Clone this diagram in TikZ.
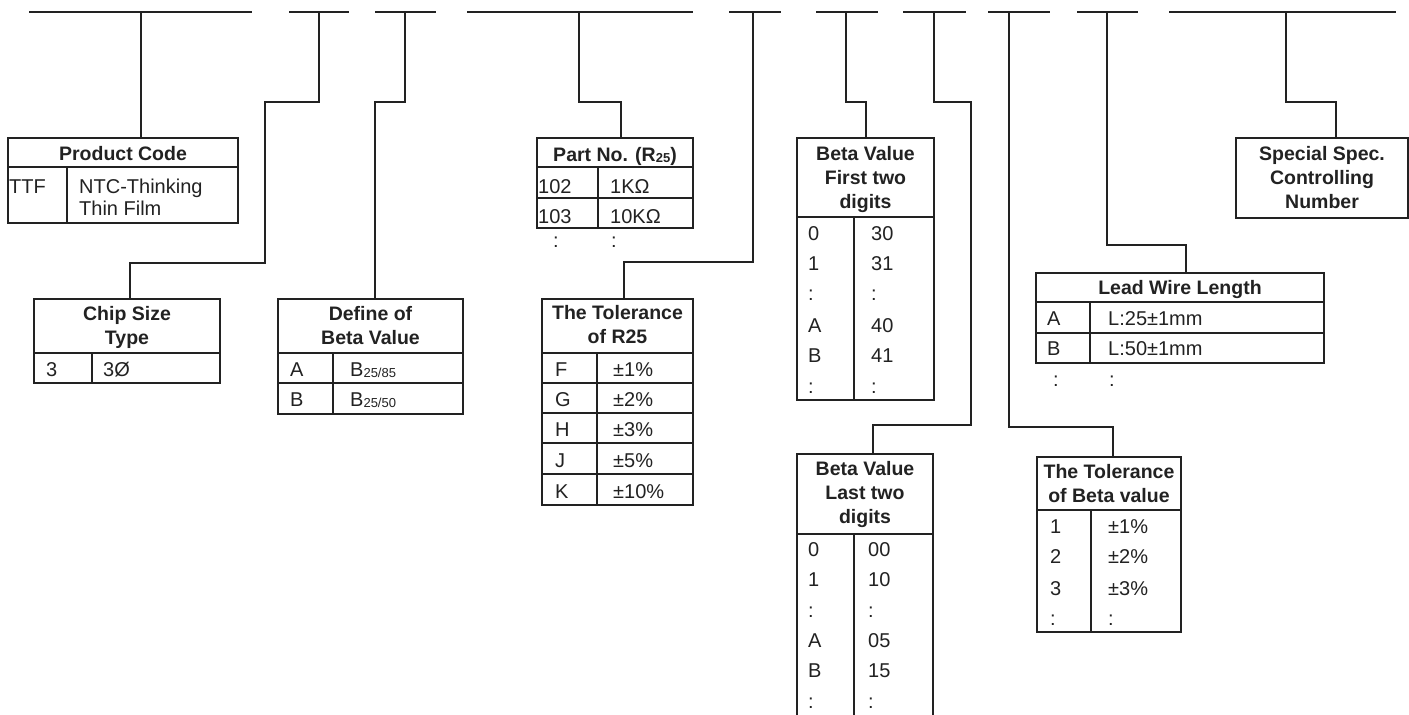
\documentclass[tikz,border=0pt]{standalone}
\usepackage{fontspec}
\setmainfont{Liberation Sans}
\definecolor{ink}{HTML}{222222}
\newcommand{\lowsub}[1]{\raisebox{-1.2pt}{\fontsize{13}{13}\selectfont #1}}

\begin{document}
\begin{tikzpicture}[
  x=1pt, y=-1pt,
  every node/.style={text=ink},
  box/.style={draw=ink, line width=1.1pt, inner sep=0pt, outer sep=0pt, anchor=north west},
  rule/.style={draw=ink, line width=1.1pt},
  link/.style={draw=ink, line width=1.1pt},
  head/.style={font=\bfseries\fontsize{19.5}{24.3}\selectfont, align=center, inner sep=0pt, anchor=north},
  cell/.style={font=\fontsize{20}{22}\selectfont, inner sep=0pt, anchor=base west}
]
\fill[white] (0,0) rectangle (1409,715);
\useasboundingbox (0,0) rectangle (1409,715);

\draw[rule] (29,12) -- (252,12);
\draw[rule] (289,12) -- (349,12);
\draw[rule] (375,12) -- (436,12);
\draw[rule] (467,12) -- (693,12);
\draw[rule] (729,12) -- (781,12);
\draw[rule] (816,12) -- (878,12);
\draw[rule] (903,12) -- (966,12);
\draw[rule] (988,12) -- (1050,12);
\draw[rule] (1077,12) -- (1138,12);
\draw[rule] (1169,12) -- (1396,12);

\coordinate (t1) at (141,12);
\coordinate (t2) at (319,12);
\coordinate (t3) at (405,12);
\coordinate (t4) at (579,12);
\coordinate (t5) at (753,12);
\coordinate (t6) at (846,12);
\coordinate (t7) at (934,12);
\coordinate (t8) at (1009,12);
\coordinate (t9) at (1107,12);
\coordinate (t10) at (1286,12);

\node[box, minimum width=230, minimum height=85] (pc) at (8,138) {};
\draw[rule] (8,167) -- (238,167);
\draw[rule] (67,167) -- (67,223);
\node[head] (pc-h) at (123,145.8) {Product Code};
\node[cell] (pc-k) at (9,193) {TTF};
\node[cell, anchor=north west, align=left] (pc-v) at (79,178.7) {NTC-Thinking\\Thin Film};

\node[box, minimum width=186, minimum height=84] (cs) at (34,299) {};
\draw[rule] (34,353) -- (220,353);
\draw[rule] (92,353) -- (92,383);
\node[head] (cs-h) at (127,306) {Chip Size\\Type};
\node[cell] (cs-k) at (46,376) {3};
\node[cell] (cs-v) at (103,376) {3Ø};

\node[box, minimum width=185, minimum height=115] (db) at (278,299) {};
\draw[rule] (278,353) -- (463,353);
\draw[rule] (278,383) -- (463,383);
\draw[rule] (333,353) -- (333,414);
\node[head] (db-h) at (370.5,306) {Define of\\Beta Value};
\node[cell] (db-k1) at (290,376) {A};
\node[cell] (db-v1) at (350,376) {B\lowsub{25/85}};
\node[cell] (db-k2) at (290,406) {B};
\node[cell] (db-v2) at (350,406) {B\lowsub{25/50}};

\node[box, minimum width=156, minimum height=90] (pn) at (537,138) {};
\draw[rule] (537,167) -- (693,167);
\draw[rule] (537,198) -- (693,198);
\draw[rule] (598,167) -- (598,228);
\node[head] (pn-h) at (615,146.8) {Part No. (R\lowsub{25})};
\node[cell] (pn-k1) at (538,193) {102};
\node[cell] (pn-v1) at (610,193) {1KΩ};
\node[cell] (pn-k2) at (538,223) {103};
\node[cell] (pn-v2) at (610,223) {10KΩ};
\node[cell] (pn-k3) at (553,247) {:};
\node[cell] (pn-v3) at (611,247) {:};

\node[box, minimum width=151, minimum height=206] (tr) at (542,299) {};
\draw[rule] (542,353) -- (693,353);
\draw[rule] (542,383) -- (693,383);
\draw[rule] (542,413) -- (693,413);
\draw[rule] (542,443) -- (693,443);
\draw[rule] (542,474) -- (693,474);
\draw[rule] (597,353) -- (597,505);
\node[head] (tr-h) at (617.5,305) {The Tolerance\\of R25};
\node[cell] (tr-k1) at (555,376) {F};
\node[cell] (tr-v1) at (613,376) {±1\%};
\node[cell] (tr-k2) at (555,406) {G};
\node[cell] (tr-v2) at (613,406) {±2\%};
\node[cell] (tr-k3) at (555,436) {H};
\node[cell] (tr-v3) at (613,436) {±3\%};
\node[cell] (tr-k4) at (555,467) {J};
\node[cell] (tr-v4) at (613,467) {±5\%};
\node[cell] (tr-k5) at (555,498) {K};
\node[cell] (tr-v5) at (613,498) {±10\%};

\node[box, minimum width=137, minimum height=262] (bf) at (797,138) {};
\draw[rule] (797,217) -- (934,217);
\draw[rule] (854,217) -- (854,400);
\node[head] (bf-h) at (865.5,146) {Beta Value\\First two\\digits};
\node[cell] (bf-k1) at (808,240) {0};
\node[cell] (bf-v1) at (871,240) {30};
\node[cell] (bf-k2) at (808,270) {1};
\node[cell] (bf-v2) at (871,270) {31};
\node[cell] (bf-k3) at (808,300) {:};
\node[cell] (bf-v3) at (871,300) {:};
\node[cell] (bf-k4) at (808,332) {A};
\node[cell] (bf-v4) at (871,332) {40};
\node[cell] (bf-k5) at (808,362) {B};
\node[cell] (bf-v5) at (871,362) {41};
\node[cell] (bf-k6) at (808,393) {:};
\node[cell] (bf-v6) at (871,393) {:};

\node[box, draw=none, minimum width=136, minimum height=261] (bl) at (797,454) {};
\draw[rule] (bl.south west) -- (bl.north west) -- (bl.north east) -- (bl.south east);
\draw[rule] (797,534) -- (933,534);
\draw[rule] (854,534) -- (854,715);
\node[head] (bl-h) at (865,461) {Beta Value\\Last two\\digits};
\node[cell] (bl-k1) at (808,556) {0};
\node[cell] (bl-v1) at (868,556) {00};
\node[cell] (bl-k2) at (808,586) {1};
\node[cell] (bl-v2) at (868,586) {10};
\node[cell] (bl-k3) at (808,617) {:};
\node[cell] (bl-v3) at (868,617) {:};
\node[cell] (bl-k4) at (808,647) {A};
\node[cell] (bl-v4) at (868,647) {05};
\node[cell] (bl-k5) at (808,677) {B};
\node[cell] (bl-v5) at (868,677) {15};
\node[cell] (bl-k6) at (808,708) {:};
\node[cell] (bl-v6) at (868,708) {:};

\node[box, minimum width=144, minimum height=175] (tb) at (1037,457) {};
\draw[rule] (1037,510) -- (1181,510);
\draw[rule] (1091,510) -- (1091,632);
\node[head] (tb-h) at (1109,464) {The Tolerance\\of Beta value};
\node[cell] (tb-k1) at (1050,533) {1};
\node[cell] (tb-v1) at (1108,533) {±1\%};
\node[cell] (tb-k2) at (1050,563) {2};
\node[cell] (tb-v2) at (1108,563) {±2\%};
\node[cell] (tb-k3) at (1050,595) {3};
\node[cell] (tb-v3) at (1108,595) {±3\%};
\node[cell] (tb-k4) at (1050,625) {:};
\node[cell] (tb-v4) at (1108,625) {:};

\node[box, minimum width=288, minimum height=90] (lw) at (1036,273) {};
\draw[rule] (1036,302) -- (1324,302);
\draw[rule] (1036,333) -- (1324,333);
\draw[rule] (1090,302) -- (1090,363);
\node[head] (lw-h) at (1180,280) {Lead Wire Length};
\node[cell] (lw-k1) at (1047,325) {A};
\node[cell] (lw-v1) at (1108,325) {L:25±1mm};
\node[cell] (lw-k2) at (1047,355) {B};
\node[cell] (lw-v2) at (1108,355) {L:50±1mm};
\node[cell] (lw-k3) at (1053,386) {:};
\node[cell] (lw-v3) at (1109,386) {:};

\node[box, minimum width=172, minimum height=80] (ss) at (1236,138) {};
\node[head] (ss-h) at (1322,146) {Special Spec.\\Controlling\\Number};

\coordinate (e2a) at (265,102);
\coordinate (e2b) at (130,263);
\coordinate (e3) at (375,102);
\coordinate (e4) at (621,102);
\coordinate (e5) at (624,262);
\coordinate (e6) at (866,102);
\coordinate (e7a) at (971,102);
\coordinate (e7b) at (873,425);
\coordinate (e8) at (1113,427);
\coordinate (e9) at (1186,245);
\coordinate (e10) at (1336,102);

\draw[link] (t1) -- (t1 |- pc.north);
\draw[link] (t2) |- (e2a) |- (e2b) -- (e2b |- cs.north);
\draw[link] (t3) |- (e3) -- (e3 |- db.north);
\draw[link] (t4) |- (e4) -- (e4 |- pn.north);
\draw[link] (t5) |- (e5) -- (e5 |- tr.north);
\draw[link] (t6) |- (e6) -- (e6 |- bf.north);
\draw[link] (t7) |- (e7a) |- (e7b) -- (e7b |- bl.north);
\draw[link] (t8) |- (e8) -- (e8 |- tb.north);
\draw[link] (t9) |- (e9) -- (e9 |- lw.north);
\draw[link] (t10) |- (e10) -- (e10 |- ss.north);
\end{tikzpicture}
\end{document}
